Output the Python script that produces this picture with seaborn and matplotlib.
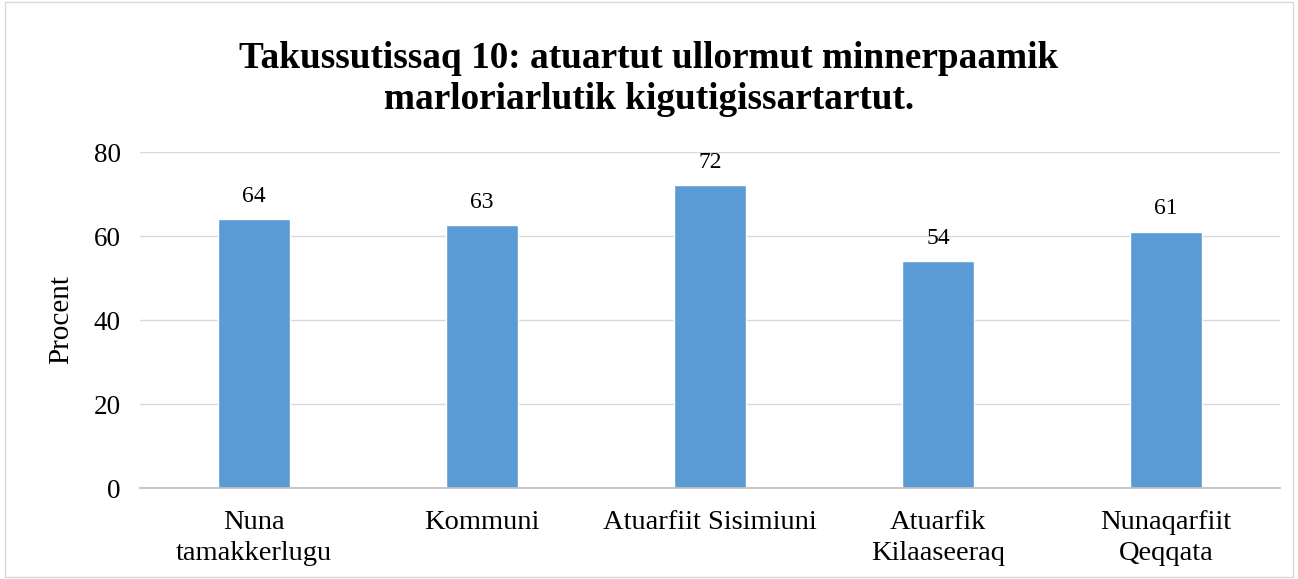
import matplotlib
matplotlib.use("Agg")
import matplotlib.pyplot as plt
import seaborn as sns
import pandas as pd

categories = ["Nuna\ntamakkerlugu", "Kommuni", "Atuarfiit Sisimiuni", "Atuarfik\nKilaaseeraq", "Nunaqarfiit\nQeqqata"]
values = [64.0, 62.6, 72.1, 54.0, 61.0]
yticks = [0, 20, 40, 60, 80]
title = "Takussutissaq 10: atuartut ullormut minnerpaamik\nmarloriarlutik kigutigissartartut."

sns.set_theme(style="white")
plt.rcParams['font.family'] = ['Liberation Serif', 'DejaVu Serif']
plt.rcParams['text.color'] = 'black'

df = pd.DataFrame({"cat": categories, "val": values})

fig = plt.figure(figsize=(12.98, 5.79), dpi=100)
ax = fig.add_axes([140/1298, 1 - 488/579, 1140/1298, 336/579])
sns.barplot(data=df, x="cat", y="val", color="#5B9BD5", width=0.316, ax=ax, saturation=1)

ax.set_ylim(0, 80)
ax.set_yticks(yticks)
ax.set_xlim(-0.5, len(categories) - 0.5)
ax.yaxis.grid(True, color="#D9D9D9", linewidth=1)
ax.set_axisbelow(True)
for s in ["left", "right", "top"]:
    ax.spines[s].set_visible(False)
ax.spines["bottom"].set_color("#BFBFBF")
ax.tick_params(axis="both", length=0, colors="black")
ax.tick_params(axis="x", pad=16, labelsize=20.5)
ax.tick_params(axis="y", pad=14, labelsize=19.5)
ax.set_xlabel("")
ax.set_ylabel("Procent", fontsize=21, labelpad=14, color="black")
for lbl in ax.get_xticklabels():
    lbl.set_linespacing(1.3)

for c in ax.containers:
    ax.bar_label(c, labels=[f"{v:.0f}" for v in values], padding=9, fontsize=17, color="black")

fig.text(0.5, 1 - 79/579, title, ha="center", va="center", fontsize=26.8, fontweight="bold", linespacing=1.2, color="black")

border = plt.Rectangle((0.004, 0.003), 0.992, 0.994, transform=fig.transFigure, fill=False, edgecolor="#D9D9D9", linewidth=1)
fig.patches.append(border)

fig.savefig("out.png", dpi=100)
